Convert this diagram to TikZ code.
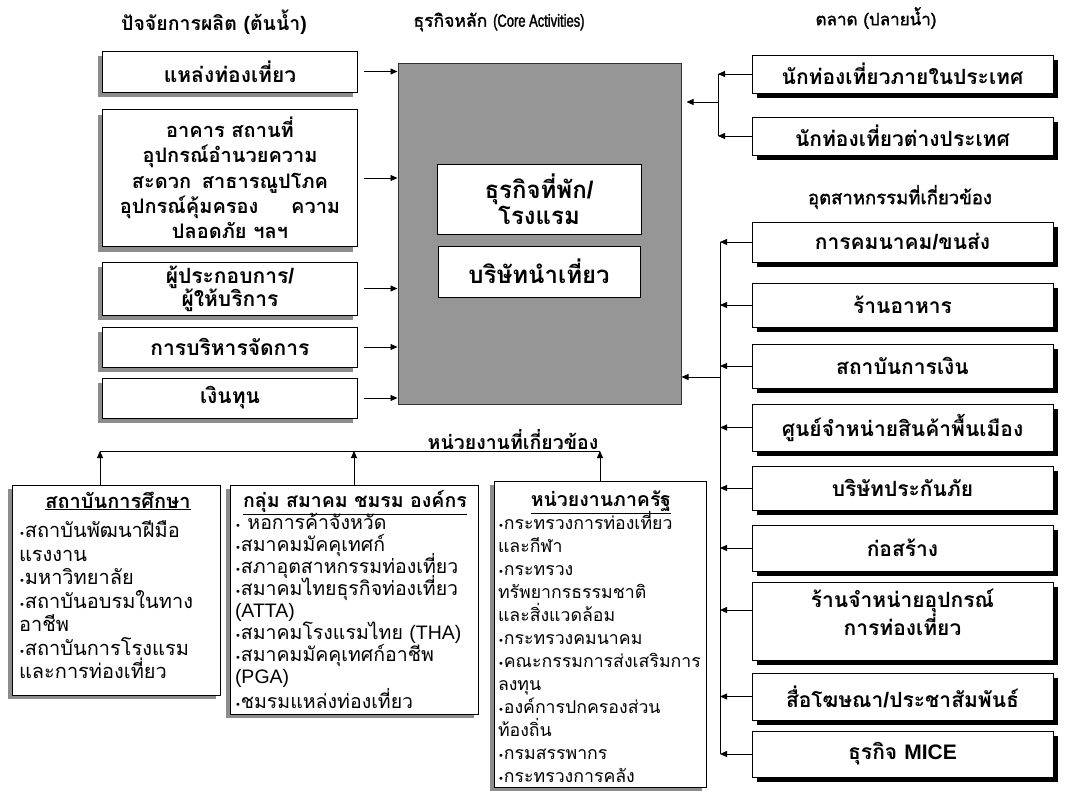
\documentclass[tikz,border=0pt]{standalone}
\usepackage{fontspec}
\setmainfont[Script=Thai]{Loma}
\newfontfamily\latfont{Liberation Sans}
\newfontfamily\narrowfont[FakeStretch=0.74,FakeBold=1.6]{Liberation Sans}
\newfontfamily\hdfont[Script=Thai,FakeBold=1.6]{Loma}
\newfontfamily\hdlat[FakeBold=1.6]{Liberation Sans}
\newfontfamily\dejafont{DejaVu Sans}
\newcommand{\ltn}[1]{{\latfont #1}}
\newcommand{\blt}{{\dejafont\fontsize{10}{10}\selectfont •}}
\newcommand{\tightlines}{\lineskiplimit=-30pt\relax}
\usetikzlibrary{arrows.meta,shadows,calc}
\definecolor{coregray}{HTML}{969696}
\definecolor{shadegray}{HTML}{8C8C8C}
\begin{document}
\begin{tikzpicture}[x=1pt,y=-1pt,
  head/.style={font=\bfseries\fontsize{19.5}{22}\selectfont, inner sep=0pt},
  shead/.style={inner sep=0pt},
  lbox/.style={draw=black, line width=1pt, fill=white, minimum width=255pt,
    align=center, font=\bfseries\fontsize{21}{25}\selectfont,
    general shadow={fill=shadegray, shadow xshift=-5pt, shadow yshift=-5pt}},
  rbox/.style={draw=black, line width=1pt, fill=white, minimum width=301pt,
    align=center, font=\bfseries\fontsize{21}{25}\selectfont,
    general shadow={fill=black, shadow xshift=5pt, shadow yshift=-5pt}},
  inbox/.style={draw=black, line width=1pt, fill=white, align=center,
    font=\bfseries\fontsize{24}{26}\selectfont},
  bbox/.style={draw=black, line width=1pt, fill=white,
    general shadow={fill=shadegray, shadow xshift=-4pt, shadow yshift=-4pt}},
  btext/.style={anchor=north, inner sep=0pt},
  arr/.style={-{Triangle[length=7pt,width=6pt]}, line width=0.9pt},
  ln/.style={line width=0.9pt}
]
\useasboundingbox (0,0) rectangle (1067,790);

% headers
\node[head] (hsrc) at (214,22) {ปัจจัยการผลิต \ltn{(}ต้นน้ำ\ltn{)}};
\node[shead, font=\hdfont\fontsize{17.5}{20}\selectfont] (hcore) at (499,22) {ธุรกิจหลัก {\narrowfont(Core Activities)}};
\node[shead, font=\hdfont\fontsize{17}{20}\selectfont] (hmkt) at (876,18) {ตลาด {\hdlat(}ปลายน้ำ{\hdlat)}};
\node[shead, font=\hdfont\fontsize{18.5}{20}\selectfont] (hind) at (900,197) {อุตสาหกรรมที่เกี่ยวข้อง};
\node[head] (hag) at (513,440) {หน่วยงานที่เกี่ยวข้อง};

% core
\node[draw=black!80, line width=1pt, fill=coregray, minimum width=283pt, minimum height=341pt] (core) at (539.5,233.5) {};
\node[inbox, minimum width=204pt, minimum height=70pt] (hotel) at (539,199) {ธุรกิจที่พัก\ltn{/}\\โรงแรม};
\node[inbox, minimum width=202pt, minimum height=51pt] (tour) at (539,271.5) {บริษัทนำเที่ยว};

% left inputs
\node[lbox, minimum height=41pt] (L1) at (230,71.5) {แหล่งท่องเที่ยว};
\node[lbox, minimum height=137pt, font=\bfseries\fontsize{20}{25.3}\selectfont] (L2) at (230,178) {อาคาร สถานที่\\อุปกรณ์อำนวยความ\\สะดวก\hspace{4pt} สาธารณูปโภค\\อุปกรณ์คุ้มครอง\hspace{26pt} ความ\\ปลอดภัย ฯลฯ};
\node[lbox, minimum height=53pt, font=\bfseries\fontsize{21}{23}\selectfont] (L3) at (230,288.5) {ผู้ประกอบการ\ltn{/}\\ผู้ให้บริการ};
\node[lbox, minimum height=40pt] (L4) at (230,347) {การบริหารจัดการ};
\node[lbox, minimum height=40pt] (L5) at (230,398) {เงินทุน};

\foreach \b in {L1,L2,L3,L4,L5}
  \draw[arr, shorten <=6pt] (\b.east) -- (\b.east -| core.west);

% market
\node[rbox, minimum height=38pt] (M1) at (902.5,74) {นักท่องเที่ยวภายในประเทศ};
\node[rbox, minimum height=38pt] (M2) at (902.5,136) {นักท่องเที่ยวต่างประเทศ};
\coordinate (mk) at (718,102);
\draw[ln] (M1.west -| mk) -- (M2.west -| mk);
\draw[arr] (M1.west) -- (M1.west -| mk);
\draw[arr] (M2.west) -- (M2.west -| mk);
\draw[arr, shorten >=5pt] (mk) -- (mk -| core.east);

% related industries
\node[rbox, minimum height=40pt] (R1) at (902.5,242) {การคมนาคม\ltn{/}ขนส่ง};
\node[rbox, minimum height=44pt] (R2) at (902.5,305) {ร้านอาหาร};
\node[rbox, minimum height=44pt] (R3) at (902.5,366) {สถาบันการเงิน};
\node[rbox, minimum height=47pt] (R4) at (902.5,427.5) {ศูนย์จำหน่ายสินค้าพื้นเมือง};
\node[rbox, minimum height=44pt] (R5) at (902.5,488) {บริษัทประกันภัย};
\node[rbox, minimum height=46pt] (R6) at (902.5,548) {ก่อสร้าง};
\node[rbox, minimum height=78pt] (R7) at (902.5,621) {};
\node[inner sep=0pt, align=center, font=\bfseries\fontsize{21}{25}\selectfont] (R7t) at (902.5,612) {ร้านจำหน่ายอุปกรณ์\\การท่องเที่ยว};
\node[rbox, minimum height=47pt] (R8) at (902.5,696.5) {สื่อโฆษณา\ltn{/}ประชาสัมพันธ์};
\node[rbox, minimum height=46pt] (R9) at (902.5,754) {ธุรกิจ \ltn{MICE}};
\coordinate (ik) at (720,377);
\coordinate (r7a) at (752,610);
\draw[ln] (R1.west -| ik) -- (R9.west -| ik);
\foreach \b in {R1,R2,R3,R4,R5,R6,R8,R9}
  \draw[arr] (\b.west) -- (\b.west -| ik);
\draw[arr] (r7a) -- (r7a -| ik);
\draw[arr] (ik) -- (ik -| core.east);

% related agencies
\node[bbox, minimum width=208pt, minimum height=210pt] (B1) at (116,590) {};
\node[bbox, minimum width=248pt, minimum height=229pt] (B2) at (354,599.5) {};
\node[bbox, minimum width=212pt, minimum height=306pt] (B3) at (600,634) {};

\node[btext, text width=198pt, font=\fontsize{20}{23.5}\selectfont] (B1t) at ($(B1.north)+(2,7)$) {\tightlines
  {\centering\bfseries\underline{สถาบันการศึกษา}\par}\vspace{6pt}\raggedright
  \blt สถาบันพัฒนาฝีมือ\\แรงงาน\\\blt มหาวิทยาลัย\\\blt สถาบันอบรมในทาง\\อาชีพ\\\blt สถาบันการโรงแรม\\และการท่องเที่ยว};
\node[btext, text width=240pt, font=\fontsize{19.5}{22}\selectfont] (B2t) at ($(B2.north)+(1,6)$) {\tightlines
  {\centering\bfseries\underline{กลุ่ม สมาคม ชมรม องค์กร}\par}\raggedright
  \blt{} หอการค้าจังหวัด\\\blt สมาคมมัคคุเทศก์\\\blt สภาอุตสาหกรรมท่องเที่ยว\\\blt สมาคมไทยธุรกิจท่องเที่ยว\\\ltn{(ATTA)}\\\blt สมาคมโรงแรมไทย \ltn{(THA)}\\\blt สมาคมมัคคุเทศก์อาชีพ\\\ltn{(PGA)}\\\blt ชมรมแหล่งท่องเที่ยว};
\node[btext, text width=206pt, font=\fontsize{17.7}{23}\selectfont] (B3t) at ($(B3.north)+(1,10)$) {\tightlines
  {\centering\bfseries\fontsize{19.5}{20}\selectfont\underline{หน่วยงานภาครัฐ}\par}\vspace{0pt}\raggedright
  \blt กระทรวงการท่องเที่ยว\\และกีฬา\\\blt กระทรวง\\ทรัพยากรธรรมชาติ\\และสิ่งแวดล้อม\\\blt กระทรวงคมนาคม\\\blt คณะกรรมการส่งเสริมการ\\ลงทุน\\\blt องค์การปกครองส่วน\\ท้องถิ่น\\\blt กรมสรรพากร\\\blt กระทรวงการคลัง};

\coordinate (hb) at (100,451);
\draw[ln] (hb) -- (hb -| B3.north);
\draw[arr] (B1.north -| hb) -- (hb);
\draw[arr] (B2.north) -- (B2.north |- hb);
\draw[arr] (B3.north) -- (B3.north |- hb);
\end{tikzpicture}
\end{document}
